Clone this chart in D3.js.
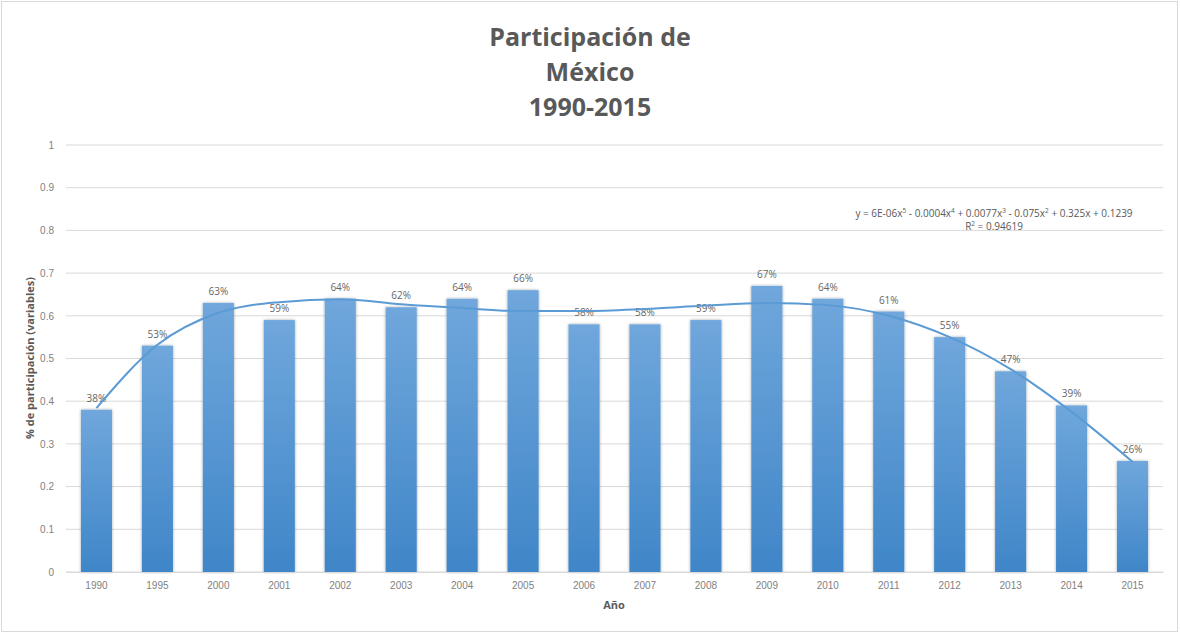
<!DOCTYPE html>
<html lang="es">
<head>
<meta charset="UTF-8">
<title>Participación de México</title>
<script src="https://d3js.org/d3.v7.min.js"></script>
<style>
    body{ margin:0; background:#fff; }
    svg{ display:block; font-family:"Open Sans", "Liberation Sans", sans-serif; }
    .grid line{ stroke:#d9d9d9; }
    .tick text{ fill:#7f7f7f; font-size:10px; }
</style>
</head>
<body>
<svg id="chart" width="1180" height="634"></svg>
<script>
    // años y % de participación
    let years = ["1990","1995","2000","2001","2002","2003","2004","2005","2006",
                 "2007","2008","2009","2010","2011","2012","2013","2014","2015"]
    let participation = [0.38,0.53,0.63,0.59,0.64,0.62,0.64,0.66,0.58,
                         0.58,0.59,0.67,0.64,0.61,0.55,0.47,0.39,0.26]
    // linea de tendencia (polinómica)
    let trend = [0.384,0.532,0.607,0.632,0.639,0.627,0.618,0.611,0.611,
                 0.616,0.624,0.63,0.625,0.60,0.55,0.475,0.375,0.258]
    let yTicks = [0,0.1,0.2,0.3,0.4,0.5,0.6,0.7,0.8,0.9,1]
    let titleLines = ["Participación de","México","1990-2015"]

    let svg = d3.select("#chart")
    let margin = {left:66, right:1163, top:145, bottom:572}

    svg.append("rect")
        .attr("x",1.5).attr("y",1.5)
        .attr("width",1176).attr("height",630)
        .attr("fill","#fff").attr("stroke","#d9d9d9")

    let x = d3.scaleBand().domain(years).range([margin.left, margin.right]).paddingInner(0.49).paddingOuter(0.245)
    let y = d3.scaleLinear().domain([0,1]).range([margin.bottom, margin.top])

    let defs = svg.append("defs")
    let grad = defs.append("linearGradient").attr("id","barGrad")
        .attr("x1",0).attr("y1",0).attr("x2",0).attr("y2",1)
    grad.append("stop").attr("offset","0%").attr("stop-color","#70a7dc")
    grad.append("stop").attr("offset","100%").attr("stop-color","#3f86c8")
    let shadow = defs.append("filter").attr("id","shadow")
        .attr("x","-20%").attr("y","-5%").attr("width","140%").attr("height","110%")
    shadow.append("feDropShadow").attr("dx",0).attr("dy",0).attr("stdDeviation",1.5)
        .attr("flood-color","#000").attr("flood-opacity",0.35)

    // grid
    svg.append("g").attr("class","grid")
        .selectAll("line").data(yTicks).join("line")
        .attr("x1",margin.left).attr("x2",margin.right)
        .attr("y1",d => y(d)).attr("y2",d => y(d))

    // y axis
    let yAxis = svg.append("g").attr("transform",`translate(${margin.left},0)`)
        .call(d3.axisLeft(y).tickValues(yTicks).tickFormat(d3.format("")).tickSize(0).tickPadding(12))
    yAxis.select(".domain").remove()

    // bars
    svg.append("g").selectAll("rect").data(years).join("rect")
        .attr("x",d => x(d))
        .attr("y",(d,i) => y(participation[i]))
        .attr("width",x.bandwidth())
        .attr("height",(d,i) => y(0) - y(participation[i]))
        .attr("fill","url(#barGrad)")
        .attr("filter","url(#shadow)")

    // x axis
    let xAxis = svg.append("g").attr("transform",`translate(0,${margin.bottom})`)
        .call(d3.axisBottom(x).tickSize(0).tickPadding(10))
    xAxis.select(".domain").attr("stroke","#d9d9d9")

    // data labels
    svg.append("g").selectAll("text").data(years).join("text")
        .attr("x",d => x(d) + x.bandwidth()/2)
        .attr("y",(d,i) => y(participation[i]) - 8)
        .attr("text-anchor","middle")
        .attr("fill","#666").attr("font-size","10px")
        .text((d,i) => Math.round(participation[i]*100) + "%")

    // trend line
    let line = d3.line()
        .x((d,i) => x(years[i]) + x.bandwidth()/2)
        .y(d => y(d))
        .curve(d3.curveMonotoneX)
    svg.append("path").datum(trend)
        .attr("d",line)
        .attr("fill","none").attr("stroke","#5b9bd5").attr("stroke-width",2)

    // equation
    let eq = svg.append("text").attr("x",994).attr("y",217)
        .attr("text-anchor","middle").attr("fill","#595959").attr("font-size","10px")
    let parts = [["y = 6E-06x",""],["5","sup"],[" - 0.0004x",""],["4","sup"],[" + 0.0077x",""],["3","sup"],
                 [" - 0.075x",""],["2","sup"],[" + 0.325x + 0.1239",""]]
    parts.forEach(p => {
        let t = eq.append("tspan").text(p[0])
        if (p[1] === "sup") t.attr("font-size","6.5px").attr("dy",-4)
        else if (eq.selectAll("tspan").size() > 1) t.attr("dy",4)
    })
    let r2 = svg.append("text").attr("x",994).attr("y",230)
        .attr("text-anchor","middle").attr("fill","#595959").attr("font-size","10px")
    r2.append("tspan").text("R")
    r2.append("tspan").text("2").attr("font-size","6.5px").attr("dy",-4)
    r2.append("tspan").text(" = 0.94619").attr("dy",4)

    // title
    svg.append("g").selectAll("text").data(titleLines).join("text")
        .attr("x",590)
        .attr("y",(d,i) => 46 + i*35)
        .attr("text-anchor","middle")
        .attr("fill","#595959")
        .attr("font-weight","bold")
        .attr("font-size","25px")
        .attr("font-family","'Liberation Sans Narrow', 'Open Sans', sans-serif")
        .text(d => d)

    // axis titles
    svg.append("text").attr("x",614).attr("y",609)
        .attr("text-anchor","middle").attr("fill","#595959")
        .attr("font-weight","bold").attr("font-size","11px").text("Año")
    svg.append("text")
        .attr("transform","translate(34,358) rotate(-90)")
        .attr("text-anchor","middle").attr("fill","#595959")
        .attr("font-weight","bold").attr("font-size","11px").text("% de participación (variables)")
</script>
</body>
</html>
